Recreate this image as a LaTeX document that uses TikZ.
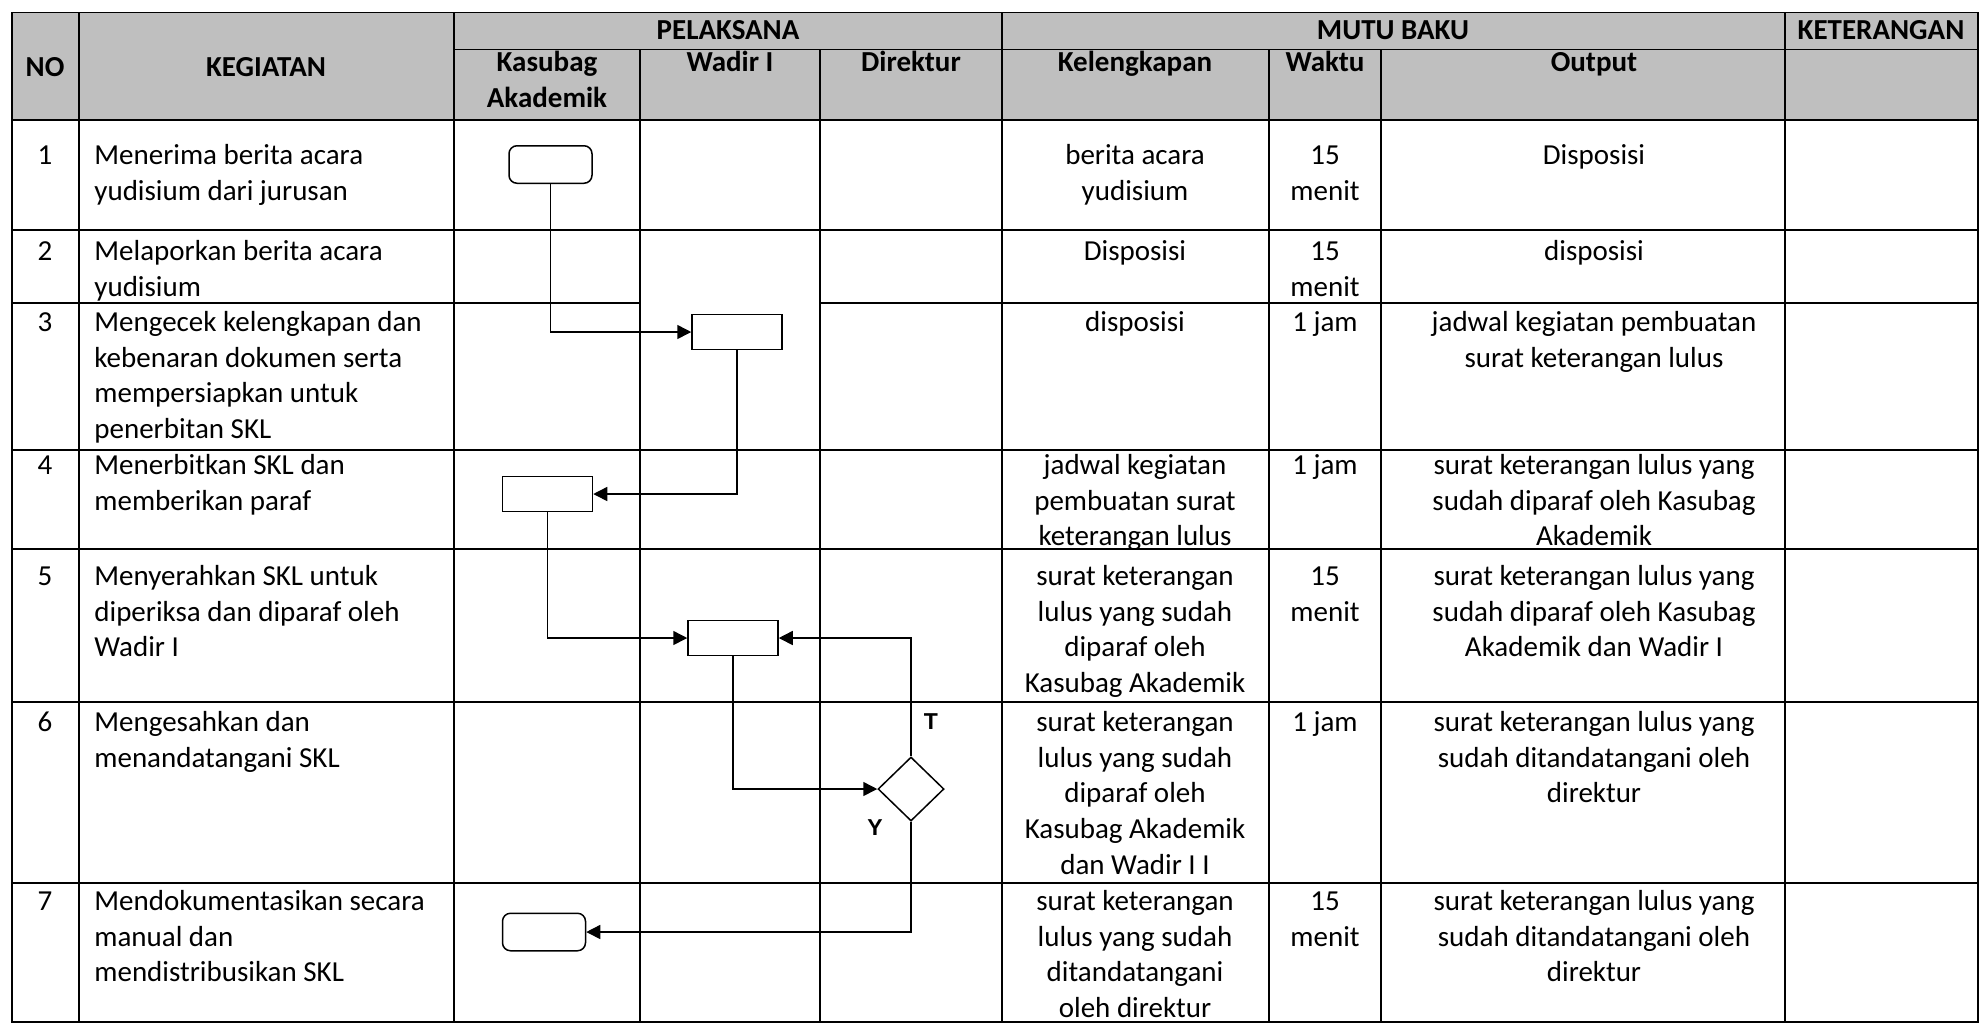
\documentclass[tikz,border=0pt]{standalone}
\usepackage{fontspec}
\setmainfont{Carlito}
\newfontfamily\yfont{Liberation Sans}
\usetikzlibrary{arrows.meta,shapes.geometric}
\definecolor{hdr}{RGB}{191,191,191}
\tikzset{
  gridline/.style={line width=0.8pt, line cap=rect},
  txt/.style={inner sep=0pt, font=\fontsize{14.5pt}{17.85pt}\selectfont, anchor=north, align=center},
  ltxt/.style={txt, anchor=north west, align=left},
  htxt/.style={txt, font=\fontsize{14.5pt}{17.85pt}\selectfont\bfseries},
  flow/.style={line width=0.75pt, -{Triangle[length=7pt,width=7pt]}},
  procbox/.style={draw, line width=0.75pt, minimum width=45pt, minimum height=17.5pt, inner sep=0pt},
  termbox/.style={procbox, rounded corners=4pt, minimum width=41.5pt, minimum height=18.75pt},
  decbox/.style={draw, diamond, line width=0.75pt, minimum width=33pt, minimum height=32pt, inner sep=0pt},
  ylab/.style={font=\yfont\bfseries\fontsize{11.5pt}{13pt}\selectfont, inner sep=0pt},
}
\begin{document}
\begin{tikzpicture}[x=0.5pt,y=-0.5pt]
\useasboundingbox (0,0) rectangle (1980,1024);
% header fill
\fill[hdr] (11.7,12.5) rectangle (1978,120);
% verticals
\draw[gridline] (11.7,12.5) -- (11.7,1022);
\draw[gridline] (79,12.5) -- (79,1022);
\draw[gridline] (454,12.5) -- (454,1022);
\draw[gridline] (640,49.3) -- (640,1022);
\draw[gridline] (820,49.3) -- (820,1022);
\draw[gridline] (1002,12.5) -- (1002,1022);
\draw[gridline] (1269,49.3) -- (1269,1022);
\draw[gridline] (1381,49.3) -- (1381,1022);
\draw[gridline] (1785,12.5) -- (1785,1022);
\draw[gridline] (1978,12.5) -- (1978,1022);
% horizontals
\draw[gridline] (11.7,12.5) -- (1978,12.5);
\draw[gridline] (454,49.3) -- (1978,49.3);
\draw[gridline] (11.7,120) -- (1978,120);
\draw[gridline] (11.7,230) -- (1978,230);
\draw[gridline] (11.7,303) -- (640,303);
\draw[gridline] (820,303) -- (1978,303);
\draw[gridline] (11.7,450) -- (1978,450);
\draw[gridline] (11.7,549) -- (1978,549);
\draw[gridline] (11.7,702) -- (1978,702);
\draw[gridline] (11.7,883) -- (1978,883);
\draw[gridline] (11.7,1022) -- (1978,1022);

% header texts
\node[htxt] (hpel) at (728,14) {\strut PELAKSANA};
\node[htxt] (hmutu) at (1393,14) {\strut MUTU BAKU};
\node[htxt] (hket) at (1881,14) {\strut KETERANGAN};
\node[htxt] (hno) at (45,51) {\strut NO};
\node[htxt] (hkeg) at (266,51) {\strut KEGIATAN};
\node[htxt] (hkas) at (547,46) {\strut Kasubag\\Akademik};
\node[htxt] (hwad) at (730,46) {\strut Wadir I};
\node[htxt] (hdir) at (911,46) {\strut Direktur};
\node[htxt] (hkel) at (1135,46) {\strut Kelengkapan};
\node[htxt] (hwak) at (1325,46) {\strut Waktu};
\node[htxt] (hout) at (1594,46) {\strut Output};

% row 1
\node[txt] (n1) at (45,139) {\strut 1};
\node[ltxt] (k1) at (94,139) {\strut Menerima berita acara\\yudisium dari jurusan};
\node[txt] (l1) at (1135,139) {\strut berita acara\\yudisium};
\node[txt] (w1) at (1325,139) {\strut 15\\menit};
\node[txt] (o1) at (1594,139) {\strut Disposisi};
% row 2
\node[txt] (n2) at (45,235) {\strut 2};
\node[ltxt] (k2) at (94,235) {\strut Melaporkan berita acara\\yudisium};
\node[txt] (l2) at (1135,235) {\strut Disposisi};
\node[txt] (w2) at (1325,235) {\strut 15\\menit};
\node[txt] (o2) at (1594,235) {\strut disposisi};
% row 3
\node[txt] (n3) at (45,306) {\strut 3};
\node[ltxt] (k3) at (94,306) {\strut Mengecek kelengkapan dan\\kebenaran dokumen serta\\mempersiapkan untuk\\penerbitan SKL};
\node[txt] (l3) at (1135,306) {\strut disposisi};
\node[txt] (w3) at (1325,306) {\strut 1 jam};
\node[txt] (o3) at (1594,306) {\strut jadwal kegiatan pembuatan\\surat keterangan lulus};
% row 4
\node[txt] (n4) at (45,449) {\strut 4};
\node[ltxt] (k4) at (94,449) {\strut Menerbitkan SKL dan\\memberikan paraf};
\node[txt] (l4) at (1135,449) {\strut jadwal kegiatan\\pembuatan surat\\keterangan lulus};
\node[txt] (w4) at (1325,449) {\strut 1 jam};
\node[txt] (o4) at (1594,449) {\strut surat keterangan lulus yang\\sudah diparaf oleh Kasubag\\Akademik};
% row 5
\node[txt] (n5) at (45,560) {\strut 5};
\node[ltxt] (k5) at (94,560) {\strut Menyerahkan SKL untuk\\diperiksa dan diparaf oleh\\Wadir I};
\node[txt] (l5) at (1135,560) {\strut surat keterangan\\lulus yang sudah\\diparaf oleh\\Kasubag Akademik};
\node[txt] (w5) at (1325,560) {\strut 15\\menit};
\node[txt] (o5) at (1594,560) {\strut surat keterangan lulus yang\\sudah diparaf oleh Kasubag\\Akademik dan Wadir I};
% row 6
\node[txt] (n6) at (45,706) {\strut 6};
\node[ltxt] (k6) at (94,706) {\strut Mengesahkan dan\\menandatangani SKL};
\node[txt] (l6) at (1135,706) {\strut surat keterangan\\lulus yang sudah\\diparaf oleh\\Kasubag Akademik\\dan Wadir I I};
\node[txt] (w6) at (1325,706) {\strut 1 jam};
\node[txt] (o6) at (1594,706) {\strut surat keterangan lulus yang\\sudah ditandatangani oleh\\direktur};
% row 7
\node[txt] (n7) at (45,885) {\strut 7};
\node[ltxt] (k7) at (94,885) {\strut Mendokumentasikan secara\\manual dan\\mendistribusikan SKL};
\node[txt] (l7) at (1135,885) {\strut surat keterangan\\lulus yang sudah\\ditandatangani\\oleh direktur};
\node[txt] (w7) at (1325,885) {\strut 15\\menit};
\node[txt] (o7) at (1594,885) {\strut surat keterangan lulus yang\\sudah ditandatangani oleh\\direktur};

% flowchart
\node[termbox,fill=white] (s1) at (550.5,164.5) {};
\node[procbox,fill=white] (b3) at (737,332) {};
\node[procbox,fill=white] (b4) at (547.5,494) {};
\node[procbox,fill=white] (b5) at (733,638) {};
\node[decbox,fill=white] (d6) at (911,789) {};
\node[termbox,fill=white] (e7) at (544,932) {};
\node[ylab] (lt) at (931,722) {T};
\node[ylab] (ly) at (875,828) {Y};

\draw[flow] (s1.south) |- (b3.west);
\draw[flow] (b3.south) |- (b4.east);
\draw[flow] (b4.south) |- (b5.west);
\draw[flow] (b5.south) |- (d6.west);
\draw[flow] (d6.north) |- (b5.east);
\draw[flow] (d6.south) |- (e7.east);
\end{tikzpicture}
\end{document}
